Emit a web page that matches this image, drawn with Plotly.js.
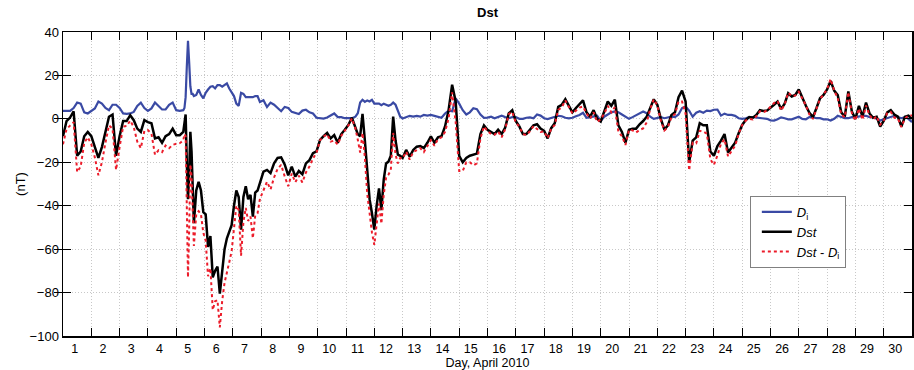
<!DOCTYPE html>
<html>
<head>
<meta charset="utf-8">
<script src="https://cdn.plot.ly/plotly-3.0.1.min.js"></script>
<style>
  html, body { margin: 0; padding: 0; background: #fff; }
  #chart { width: 914px; height: 370px; }
</style>
</head>
<body>
<div id="chart"></div>
<script>
// Hours since 2010-04-01 00:00 UT
const hours = [
  0,3,6,9,12,15,18,21,24,27,30,33,36,39,42,45,48,51,54,57,60,63,66,69,72,75,78,81,84,87,90,93,96,99,102,
  103,104,105,106,107,108,109,110,111,
  113,115,117,119,121,123,125,127,129,131,133,135,137,139,141,143,145,147,149,151,153,155,157,159,161,163,165,167,
  170,173,176,179,182,185,188,191,194,197,200,203,206,209,212,215,218,221,224,227,230,233,236,239,242,245,248,
  250,252,254,256,258,260,262,264,266,268,270,272,274,276,278,280,282,284,286,288,
  291,294,297,300,303,306,309,312,315,318,321,324,327,330,333,336,
  339,342,345,348,351,354,357,360,363,366,369,372,375,378,381,384,
  387,390,393,396,399,402,405,408,411,414,417,420,423,426,429,432,
  435,438,441,444,447,450,453,456,459,462,465,468,471,474,477,480,
  483,486,489,492,495,498,501,504,507,510,513,516,519,522,525,528,
  531,534,537,540,543,546,549,552,555,558,561,564,567,570,573,576,
  579,582,585,588,591,594,597,600,603,606,609,612,615,618,621,624,
  627,630,633,636,639,642,645,648,651,654,657,660,663,666,669,672,
  675,678,681,684,687,690,693,696,699,702,705,708,711,714,717,720
];

// Dst index (nT)
const dst = [
  -8,-1,0.6,3.5,-17,-15,-8,-6,-8,-13,-18,-13,-6,1,2,-17,-8,-1,-1,1.7,-0.6,-4.5,-6,-0.6,-1.5,-2,-9,-8.5,-11,-8,-7,-4.5,-7.5,-7.5,-6,
  -2,2,-20,-37,-25,-6,-15,-30,-48,
  -33,-29,-33,-43,-44,-59,-54,-73,-70,-68,-80.5,-69,-60,-55,-52,-49,-40,-33,-36,-51,-36,-31,-37,-35,-45,-34,-33,-29,
  -24.3,-23.5,-25,-20.5,-18,-17.7,-21,-26,-22,-26.6,-24,-25.5,-20.5,-19,-15.8,-15,-9.7,-8,-6.5,-9,-7.5,-11,-7,-5,-2.8,0.5,-3.5,
  -7,-8,2.3,-10,-26,-37,-43.5,-51,-40,-32,-42,-28,-20.5,-19.7,-17,1,-10,-16.5,-17,-18,
  -14.3,-17.4,-14.3,-12.8,-12.5,-13.5,-11,-8,-11,-8.5,-8,-3.5,4,15.7,8,-17,
  -20,-18,-17,-16.5,-16,-7,-3,-5,-6,-7,-5,-7,-4,2.5,4,-1,
  -3.5,-7,-7,-5,-3,-2.5,-4.5,-5.5,-9,-4.3,-2,5.5,6.5,9,6,3,
  5,7,8.5,3,1,4,0,-1.2,3.4,8,6,8.8,-3,-6,-11,-5,
  -4.5,-4.5,-2.5,-1,1,5.5,9,6.5,0,-5,-3,1.8,3,10,13,8,
  -20,-10,-8.5,-2,-3,-3,-15,-17,-12.5,-10,-7,-15.5,-13,-11,-6.6,-2.8,
  -0.5,0.8,0.5,1.8,4,3.6,3.8,5,6.5,8,4.5,7,11.8,10.3,11,13.5,
  9.5,6,2.8,0.8,5,9.5,11,13.5,17.5,13,11,3,1,12.6,3.4,0,
  6,1,7.5,2.5,0.5,1,-3.5,-1,3,4,2,1,-3.5,1,1.5,0
];

// Induced-current contribution Di (nT)
const di = [
  3.7,3.7,3.7,5,7.5,7,3,2.5,3.7,4.8,8,7,5,4,6.5,6.5,5,2.5,2.3,2.5,3.2,6,7.5,5,3.7,4.8,7.5,6,4.3,4.3,6.5,7.5,4,3.7,4,
  5,10,24,36,26,15,11.5,11.5,10.5,
  11,13.5,11,9.5,12,13.5,14.8,15,14,15.5,15.5,14.8,15.5,16.3,14,12,10.5,7,6,12,11.5,10,10,10,10,10.5,10.5,7.8,
  8.6,5.5,7.5,6.5,5,3.5,5.5,5,3.2,2.6,2.2,3.8,4.2,3,2.5,0.5,0.2,0.1,0.6,1.5,2.5,0.8,0.8,0.3,0.3,0.3,1,
  2.6,7.5,8.8,7.8,8.5,8,8.8,7,7,7,6.3,7,6.5,6,6.5,7.5,6.5,4,1,0.2,
  0.8,1.4,1,1.4,1,1.8,1.5,1.8,1.4,0.8,0.5,2.5,3.8,3.5,9.5,7,
  4,2,3,4.9,4.5,2,0.5,0.6,1,0.3,0.8,1.5,0.8,0.3,0.8,0.8,
  0,0,0.5,0.7,0.3,2,1.5,0.3,-0.1,0.3,0.8,1.4,1.2,0.5,0.2,0.5,
  1.2,1.8,2.8,0.5,0.8,1,1.4,-1,1,2,3,3.4,3,2,1,0,
  0.8,1.8,2.6,3.4,2.6,1,0,0.3,0.8,0.3,0.8,1,0.8,2,5,5.7,
  3.8,1,2.8,3.5,2.8,3.8,3.6,4.2,4.3,1.5,2.4,1.8,1.8,1.4,0.3,0,
  0.3,0.8,0.8,0.6,0.5,0.5,0,-0.7,-0.8,-0.2,0.7,0.3,-0.2,-0.2,0.3,1,
  0,-0.2,0.8,0.8,0.3,0.3,-0.2,-0.2,-0.8,0,1.4,1,0.3,0.3,0.8,0.8,
  1.2,1.4,1.4,0.8,0.8,-0.2,-0.8,-0.2,0.3,0.8,1.4,0.8,0.3,0.8,0,-1.5
];

const dayLabels = ['1','2','3','4','5','6','7','8','9','10','11','12','13','14','15',
                   '16','17','18','19','20','21','22','23','24','25','26','27','28','29','30'];
const yTicks = [-100, -80, -60, -40, -20, 0, 20, 40];

// Dst with the induced part removed
const corrected = dst.map((v, i) => +(v - di[i]).toFixed(2));

// Day boundaries carry the grid and tick marks; day names sit inside each day
const dayEdges = dayLabels.slice(1).map((_, i) => (i + 1) * 24);
const labelPos = dayLabels.map((_, i) => (i + 0.41) * 24);

const FONT = 'Liberation Sans, Arial, Helvetica, sans-serif';
const GRID = '#c8c8c8';
const GRIDDASH = '1px,2px';

const traces = [
  { x: hours, y: di, name: '<i>D</i><sub>i</sub>', type: 'scatter', mode: 'lines',
    line: { color: '#3a4aa4', width: 2.2 }, legendrank: 1 },
  { x: hours, y: dst, name: '<i>Dst</i>', type: 'scatter', mode: 'lines',
    line: { color: '#000000', width: 2.5 }, legendrank: 2 },
  // drawn on the labelled overlay axis so it sits on top
  { x: hours, y: corrected, name: '<i>Dst</i> - <i>D</i><sub>i</sub>', type: 'scatter', mode: 'lines',
    xaxis: 'x2', yaxis: 'y',
    line: { color: '#ec1c2a', width: 2, dash: 'dot' }, legendrank: 3 }
];

const layout = {
  width: 914, height: 370,
  margin: { l: 63, r: 2, t: 32, b: 34, pad: 0 },
  paper_bgcolor: '#ffffff', plot_bgcolor: '#ffffff',
  font: { family: FONT, size: 13, color: '#000' },
  showlegend: true,
  title: { text: '<b>Dst</b>', x: 0.5, xref: 'paper', xanchor: 'center',
           y: 0.967, yanchor: 'middle', font: { family: FONT, size: 13, color: '#000' } },
  xaxis: {
    range: [0, 720], tickmode: 'array', tickvals: dayEdges,
    ticks: 'inside', ticklen: 8, tickwidth: 1, tickcolor: '#000',
    showticklabels: false,
    showgrid: true, gridcolor: GRID, griddash: GRIDDASH, gridwidth: 1,
    showline: true, linecolor: '#000', linewidth: 1.5, mirror: 'allticks',
    zeroline: false, automargin: false, fixedrange: true,
    title: { text: 'Day, April 2010', standoff: 24, font: { family: FONT, size: 12.5 } }
  },
  xaxis2: {
    overlaying: 'x', anchor: 'y', side: 'bottom',
    range: [0, 720], tickmode: 'array', tickvals: labelPos, ticktext: dayLabels,
    ticks: '', showgrid: false, showline: false, zeroline: false,
    ticklabelstandoff: 3,
    automargin: false, fixedrange: true, tickfont: { family: FONT, size: 12.5 }
  },
  yaxis: {
    range: [-100, 40], tickmode: 'array', tickvals: yTicks,
    ticks: 'inside', ticklen: 8, tickwidth: 1, tickcolor: '#000',
    showgrid: true, gridcolor: GRID, griddash: GRIDDASH, gridwidth: 1,
    showline: true, linecolor: '#000', linewidth: 1.5, mirror: 'allticks',
    zeroline: false, automargin: false, fixedrange: true,
    tickfont: { family: FONT, size: 13 },
    title: { text: '(nT)', standoff: 1, font: { family: FONT, size: 13 } }
  },
  legend: {
    x: 0.809, y: 0.461, xanchor: 'left', yanchor: 'top',
    bgcolor: '#ffffff', bordercolor: '#808080', borderwidth: 1,
    font: { family: FONT, size: 13, color: '#000' },
    itemwidth: 30, tracegroupgap: 0, indentation: 6
  }
};

Plotly.newPlot('chart', traces, layout, { displayModeBar: false, staticPlot: true });
</script>
</body>
</html>
